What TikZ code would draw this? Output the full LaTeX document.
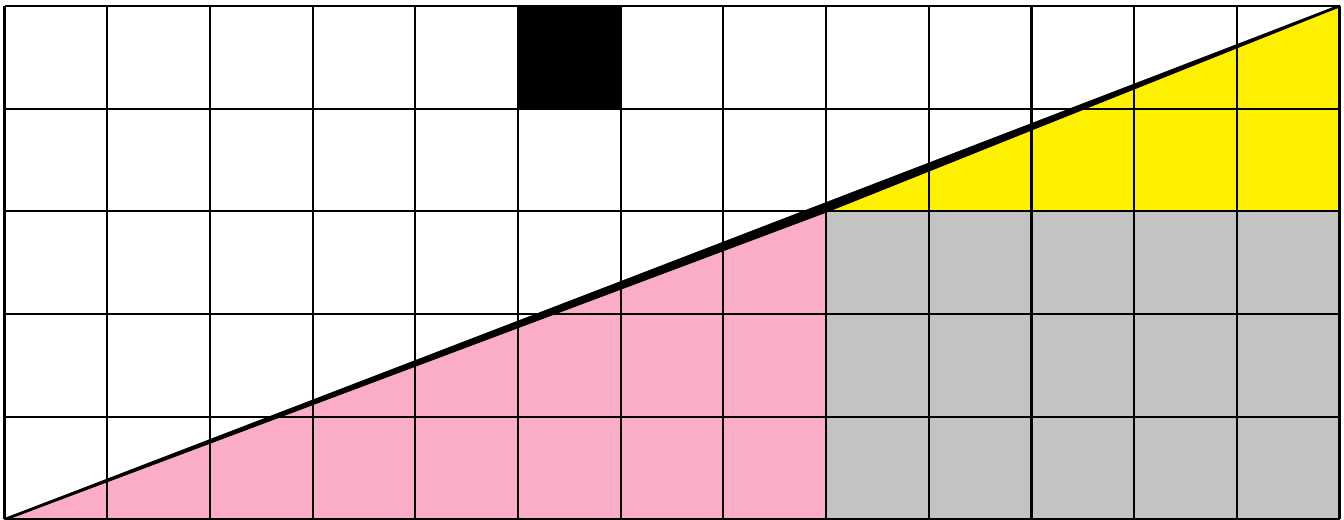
\documentclass[tikz,border=0pt]{standalone}
\definecolor{pinkfill}{RGB}{251,172,200}
\definecolor{yellowfill}{RGB}{255,240,0}
\definecolor{greyfill}{RGB}{195,195,195}
\tikzset{gridline/.style={line width=0.6pt, draw=black},
  hypline/.style={line width=0.7pt, draw=black, line join=round}}
\begin{document}
\begin{tikzpicture}[x=1cm,y=1cm]
\useasboundingbox[fill=white] (-0.044,-0.005) rectangle (13.043,5.058);
\coordinate (O) at (0,0);
\coordinate (M) at (8,3);
\coordinate (B) at (8,0);
\coordinate (T) at (13,5);
\coordinate (R) at (13,3);
\coordinate (BR) at (13,0);
% coloured pieces
\fill[pinkfill] (O) -- (M) -- (B) -- cycle;
\fill[greyfill] (B) rectangle (R);
\fill[yellowfill] (M) -- (T) -- (R) -- cycle;
\fill[black] (4.99,4) rectangle (6,5);
% grid
\draw[gridline] (0,0) grid (13,5);
% hypotenuses and the sliver between them
\fill[black] (O) -- (M) -- (T) -- cycle;
\draw[hypline] (O) -- (M) -- (T);
\draw[hypline] (O) -- (T);
\end{tikzpicture}
\end{document}
